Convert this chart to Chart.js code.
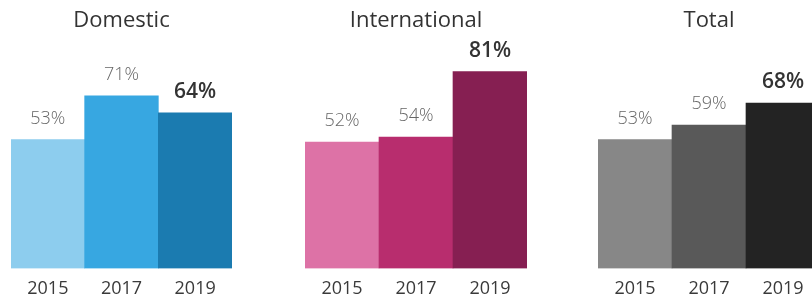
<!DOCTYPE html>
<html>
<head>
<meta charset="utf-8">
<script src="https://cdn.jsdelivr.net/npm/chart.js@4"></script>
<style>
  html, body { margin: 0; padding: 0; background: #fff; overflow: hidden; width: 812px; height: 299px; }
  .wrap { position: relative; width: 840px; height: 312px; }
  canvas { position: absolute; top: 0; }
</style>
</head>
<body>
<div class="wrap">
  <canvas id="chart-0" width="221" height="310" style="left:11px"></canvas>
  <canvas id="chart-1" width="222" height="310" style="left:305px"></canvas>
  <canvas id="chart-2" width="222" height="310" style="left:598px"></canvas>
</div>
<script>
// data
const years = ['2015', '2017', '2019'];
const domestic = [53, 71, 64];
const international = [52, 54, 81];
const total = [53, 59, 68];
const panelTitles = ['Domestic', 'International', 'Total'];

const panelValues = [domestic, international, total];
const panelColors = [
    ['#8dcdee', '#37a7e1', '#1b7bb0'],
    ['#dd72a6', '#b82d6e', '#861f52'],
    ['#878787', '#595959', '#232323']
];

const fontFamily = '"Open Sans", "Noto Sans", sans-serif';

// value labels above bars, last year is highlighted
const valueLabels = {
    id: 'valueLabels',
    afterDatasetsDraw(chart) {
        const ctx = chart.ctx;
        const meta = chart.getDatasetMeta(0);
        const values = chart.data.datasets[0].data;
        ctx.save();
        ctx.textAlign = 'center';
        ctx.textBaseline = 'middle';
        meta.data.forEach((bar, i) => {
            const last = i === values.length - 1;
            ctx.font = last ? `600 21px ${fontFamily}` : `300 18px ${fontFamily}`;
            ctx.fillStyle = last ? '#333333' : '#666666';
            ctx.fillText(values[i] + '%', bar.x, bar.y - 21);
        });
        ctx.restore();
    }
};

const chartInstances = {};

panelTitles.forEach((title, index) => {
    const ctx = document.getElementById(`chart-${index}`).getContext('2d');
    chartInstances[`chart-${index}`] = new Chart(ctx, {
        type: 'bar',
        data: {
            labels: years,
            datasets: [{
                data: panelValues[index],
                backgroundColor: panelColors[index],
                borderWidth: 0,
                categoryPercentage: 1,
                barPercentage: 1
            }]
        },
        options: {
            responsive: false,
            animation: false,
            layout: { padding: 0 },
            scales: {
                x: {
                    grid: { display: false, drawTicks: false },
                    border: { display: false },
                    ticks: {
                        color: '#3a3a3a',
                        font: { family: fontFamily, size: 18 },
                        padding: 10
                    }
                },
                y: {
                    display: false,
                    min: 0,
                    max: 93
                }
            },
            plugins: {
                legend: { display: false },
                tooltip: { enabled: false },
                title: {
                    display: true,
                    text: title,
                    color: '#333333',
                    font: { family: fontFamily, size: 22, weight: 'normal' },
                    padding: { top: 8, bottom: 8 }
                }
            }
        },
        plugins: [valueLabels]
    });
});
</script>
</body>
</html>
